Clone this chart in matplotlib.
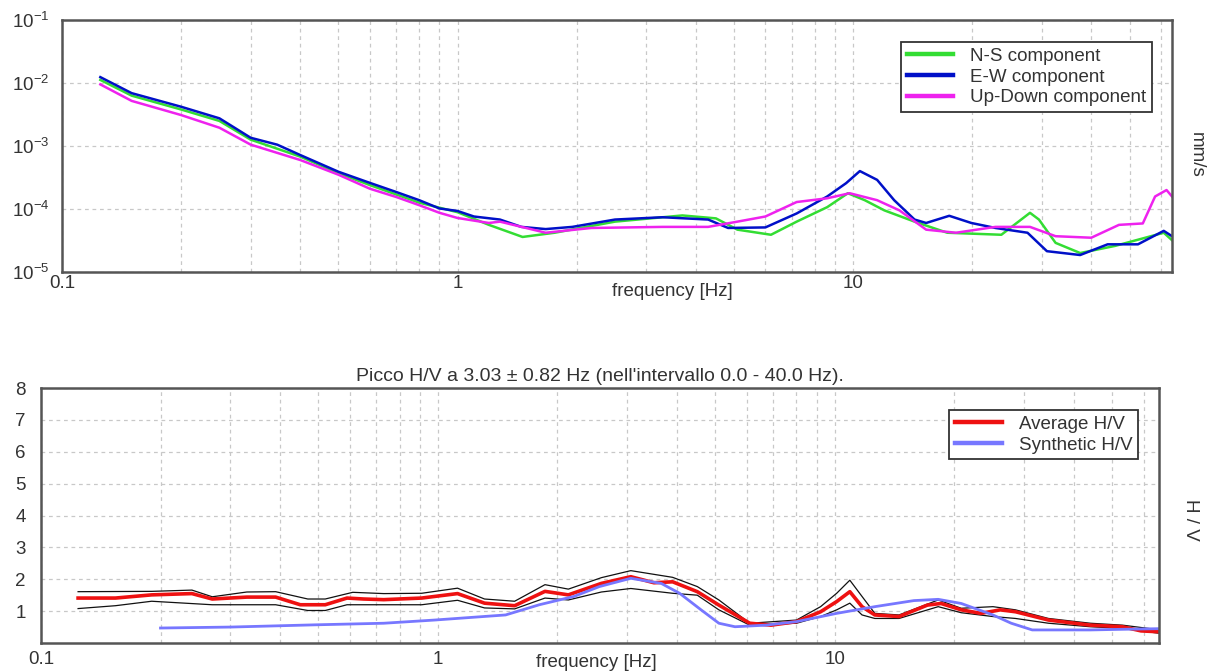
import numpy as np
import matplotlib
matplotlib.use("Agg")
import matplotlib.pyplot as plt
import matplotlib.ticker as mticker

plt.rcParams['font.family'] = ['Liberation Sans', 'DejaVu Sans']
plt.rcParams['mathtext.fontset'] = 'custom'
plt.rcParams['mathtext.rm'] = 'Liberation Sans'

# ---- spectra (top panel), mm/s ----
ns_freq = [0.125, 0.15, 0.2, 0.25, 0.3, 0.4, 0.5, 0.6, 0.8, 1.0, 1.2, 1.46, 1.76, 2.5,
           3.7, 4.5, 5.1, 6.2, 7.2, 8.6, 9.7, 10.7, 12.0, 14.3, 17.3, 23.7, 28.0, 29.5,
           32.5, 37.5, 46.0, 61.0, 64.0]
ns_amp = [1.12e-2, 6.3e-3, 3.8e-3, 2.5e-3, 1.26e-3, 6.8e-4, 3.7e-4, 2.4e-4, 1.26e-4, 8.9e-5,
          5.6e-5, 3.6e-5, 4.2e-5, 6.3e-5, 7.9e-5, 7.1e-5, 4.7e-5, 3.9e-5, 6.3e-5, 1.07e-4,
          1.78e-4, 1.38e-4, 9.5e-5, 6.3e-5, 4.2e-5, 3.9e-5, 8.7e-5, 6.8e-5, 2.9e-5, 2.0e-5,
          2.6e-5, 4.2e-5, 3.2e-5]

ew_freq = [0.125, 0.15, 0.2, 0.25, 0.3, 0.35, 0.4, 0.5, 0.6, 0.7, 0.8, 0.9, 1.0, 1.1, 1.28,
           1.45, 1.67, 1.95, 2.5, 3.3, 4.3, 4.83, 6.0, 7.2, 8.6, 9.6, 10.4, 11.5, 12.7, 14.3,
           15.3, 17.5, 19.9, 22.9, 27.6, 30.9, 37.5, 44.0, 52.5, 61.0, 64.0]
ew_amp = [1.24e-2, 6.9e-3, 4.2e-3, 2.75e-3, 1.35e-3, 1.05e-3, 7.2e-4, 3.9e-4, 2.6e-4, 1.86e-4,
          1.38e-4, 1.02e-4, 9.3e-5, 7.6e-5, 6.8e-5, 5.2e-5, 4.8e-5, 5.2e-5, 6.8e-5, 7.4e-5,
          6.8e-5, 5.0e-5, 5.1e-5, 8.5e-5, 1.58e-4, 2.57e-4, 4.0e-4, 2.9e-4, 1.38e-4, 6.8e-5,
          6.0e-5, 7.8e-5, 6.0e-5, 5.0e-5, 4.2e-5, 2.14e-5, 1.86e-5, 2.75e-5, 2.75e-5, 4.5e-5,
          3.7e-5]

ud_freq = [0.125, 0.15, 0.2, 0.25, 0.3, 0.4, 0.5, 0.6, 0.7, 0.8, 0.9, 1.0, 1.2, 1.28, 1.67,
           2.18, 3.3, 4.3, 5.1, 6.0, 7.2, 8.6, 9.8, 11.5, 13.1, 15.3, 18.2, 22.9, 28.0, 32.5,
           40.0, 47.0, 54.0, 58.0, 62.0, 64.0]
ud_amp = [9.5e-3, 5.2e-3, 3.1e-3, 1.95e-3, 1.05e-3, 6.0e-4, 3.5e-4, 2.1e-4, 1.55e-4, 1.15e-4,
          8.7e-5, 7.2e-5, 6.0e-5, 6.3e-5, 4.2e-5, 5.0e-5, 5.2e-5, 5.2e-5, 6.3e-5, 7.6e-5,
          1.29e-4, 1.48e-4, 1.78e-4, 1.38e-4, 9.5e-5, 4.7e-5, 4.2e-5, 5.2e-5, 5.2e-5, 3.7e-5,
          3.5e-5, 5.6e-5, 5.9e-5, 1.58e-4, 2.0e-4, 1.58e-4]

# ---- H/V ratio (bottom panel) ----
hv_freq = [0.124, 0.154, 0.19, 0.24, 0.27, 0.33, 0.39, 0.45, 0.52, 0.59, 0.65, 0.73, 0.91,
           1.12, 1.31, 1.56, 1.86, 2.13, 2.58, 3.06, 3.5, 3.9, 4.5, 5.1, 6.1, 6.9, 8.0, 9.2,
           10.1, 10.9, 11.7, 12.6, 14.5, 17.1, 18.5, 20.8, 23.3, 26.1, 28.5, 34.5, 44.0, 53.0,
           59.0, 66.0]
hv_avg = [1.41, 1.41, 1.51, 1.55, 1.38, 1.44, 1.44, 1.20, 1.20, 1.41, 1.38, 1.36, 1.41,
          1.55, 1.25, 1.17, 1.62, 1.51, 1.87, 2.08, 1.89, 1.92, 1.61, 1.19, 0.62, 0.56, 0.67,
          0.98, 1.30, 1.61, 1.14, 0.88, 0.83, 1.19, 1.24, 1.04, 0.93, 1.04, 0.98, 0.72, 0.56,
          0.51, 0.38, 0.35]

hv_hi_freq = [0.124, 0.19, 0.24, 0.27, 0.33, 0.39, 0.47, 0.52, 0.61, 0.73, 0.91, 1.12, 1.31,
              1.56, 1.86, 2.13, 2.58, 3.06, 3.9, 4.5, 5.1, 6.1, 8.0, 9.2, 10.1, 10.9, 11.7,
              12.6, 14.5, 18.2, 20.8, 25.0, 28.5, 34.5, 44.0, 53.0, 66.0]
hv_hi = [1.61, 1.62, 1.66, 1.45, 1.60, 1.61, 1.38, 1.38, 1.59, 1.55, 1.56, 1.72, 1.38, 1.31,
         1.83, 1.69, 2.05, 2.27, 2.06, 1.77, 1.35, 0.62, 0.72, 1.14, 1.56, 1.97, 1.46, 0.93,
         0.88, 1.35, 1.09, 1.14, 1.04, 0.77, 0.62, 0.56, 0.41]

hv_lo_freq = [0.124, 0.154, 0.19, 0.27, 0.39, 0.47, 0.52, 0.59, 0.91, 1.12, 1.31, 1.56, 1.86,
              2.13, 2.58, 3.06, 3.9, 4.5, 5.1, 6.1, 8.0, 9.2, 10.1, 10.9, 11.7, 12.6, 14.5,
              18.2, 20.8, 25.0, 28.5, 34.5, 44.0, 53.0, 66.0]
hv_lo = [1.08, 1.17, 1.31, 1.20, 1.20, 1.02, 1.02, 1.20, 1.20, 1.34, 1.10, 1.07, 1.41, 1.35,
         1.60, 1.71, 1.56, 1.50, 1.04, 0.56, 0.62, 0.83, 1.04, 1.25, 0.88, 0.77, 0.77, 1.14,
         0.95, 0.83, 0.77, 0.62, 0.51, 0.46, 0.30]

syn_freq = [0.2, 0.3, 0.49, 0.73, 0.98, 1.48, 1.8, 2.2, 2.55, 3.06, 3.65, 4.06, 4.6, 5.1, 5.6,
            6.7, 8.0, 10.1, 12.6, 15.8, 18.2, 20.8, 25.0, 27.8, 31.4, 44.0, 53.0, 66.0]
syn_hv = [0.47, 0.50, 0.57, 0.62, 0.72, 0.88, 1.20, 1.46, 1.77, 2.03, 1.87, 1.56, 1.04, 0.62,
          0.51, 0.56, 0.67, 0.93, 1.14, 1.33, 1.37, 1.24, 0.88, 0.62, 0.41, 0.41, 0.43, 0.45]

hv_title = "Picco H/V a 3.03 \u00b1 0.82 Hz (nell'intervallo 0.0 - 40.0 Hz)."

FS = 13.5
TXT = '#333333'

fig = plt.figure(figsize=(12.12, 6.72), dpi=100)
ax1 = fig.add_axes([62 / 1212, 1 - 272 / 672, 1110 / 1212, 252 / 672])
ax2 = fig.add_axes([41 / 1212, 1 - 643 / 672, 1118 / 1212, 255 / 672])

grid_kw = dict(color='#c8c8c8', linestyle=(0, (3, 3)), linewidth=0.9)


def style_axis(ax, xpad, ypad):
    ax.set_xscale('log')
    ax.set_xticks([0.1, 1, 10])
    ax.set_xticklabels(['0.1', '1', '10'])
    ax.xaxis.set_minor_locator(mticker.LogLocator(base=10, subs=np.arange(2, 10)))
    ax.xaxis.set_minor_formatter(mticker.NullFormatter())
    ax.tick_params(which='both', length=0, labelsize=FS, colors=TXT)
    ax.tick_params(axis='x', pad=xpad)
    ax.tick_params(axis='y', pad=ypad)
    ax.grid(True, which='both', axis='x', **grid_kw)
    ax.grid(True, which='major', axis='y', **grid_kw)
    ax.set_axisbelow(True)
    for sp in ax.spines.values():
        sp.set_color('#555555')
        sp.set_linewidth(1.8)


def thick_legend(ax, anchor):
    leg = ax.legend(loc='upper right', bbox_to_anchor=anchor, fontsize=FS,
                    fancybox=False, framealpha=1, edgecolor='#333333', handlelength=2.5,
                    borderpad=0.3, labelspacing=0.2, handletextpad=0.9, borderaxespad=0)
    leg.get_frame().set_linewidth(1.3)
    for h in leg.get_lines():
        h.set_linewidth(3.2)
    for t in leg.get_texts():
        t.set_color(TXT)
    return leg


# top: spectra
ax1.plot(ns_freq, ns_amp, color='#33dd33', lw=1.8, label='N-S component')
ax1.plot(ew_freq, ew_amp, color='#0010c8', lw=1.8, label='E-W component')
ax1.plot(ud_freq, ud_amp, color='#ee22ee', lw=1.8, label='Up-Down component')
ax1.set_yscale('log')
style_axis(ax1, xpad=2, ypad=9)
ax1.set_xlim(0.1, 64)
ax1.set_ylim(1e-5, 1e-1)
ax1.set_yticks([1e-5, 1e-4, 1e-3, 1e-2, 1e-1])
ax1.yaxis.set_major_formatter(mticker.LogFormatterMathtext())
ax1.yaxis.set_minor_locator(mticker.NullLocator())
ax1.set_xlabel('frequency [Hz]', fontsize=FS, color=TXT)
ax1.xaxis.set_label_coords(0.55, -0.045)
thick_legend(ax1, (0.982, 0.913))
fig.text(1196 / 1212, 1 - 155 / 672, 'mm/s', rotation=270, ha='center', va='center',
         fontsize=FS, color=TXT)

# bottom: H/V
ax2.plot(hv_hi_freq, hv_hi, color='#111111', lw=0.9)
ax2.plot(hv_lo_freq, hv_lo, color='#111111', lw=0.9)
ax2.plot(hv_freq, hv_avg, color='#ee1111', lw=2.6, label='Average H/V')
ax2.plot(syn_freq, syn_hv, color='#7777ff', lw=2.0, label='Synthetic H/V')
style_axis(ax2, xpad=6, ypad=11)
ax2.set_xlim(0.1, 65.5)
ax2.set_ylim(0, 8)
ax2.set_yticks([1, 2, 3, 4, 5, 6, 7, 8])
ax2.set_xlabel('frequency [Hz]', fontsize=FS, color=TXT)
ax2.xaxis.set_label_coords(0.497, -0.042)
ax2.set_title(hv_title, fontsize=14, pad=5, color=TXT)
thick_legend(ax2, (0.981, 0.914))
fig.text(1190 / 1212, 1 - 520 / 672, 'H / V', rotation=270, ha='center', va='center',
         fontsize=FS, color=TXT)

fig.savefig('out.png', dpi=100)
